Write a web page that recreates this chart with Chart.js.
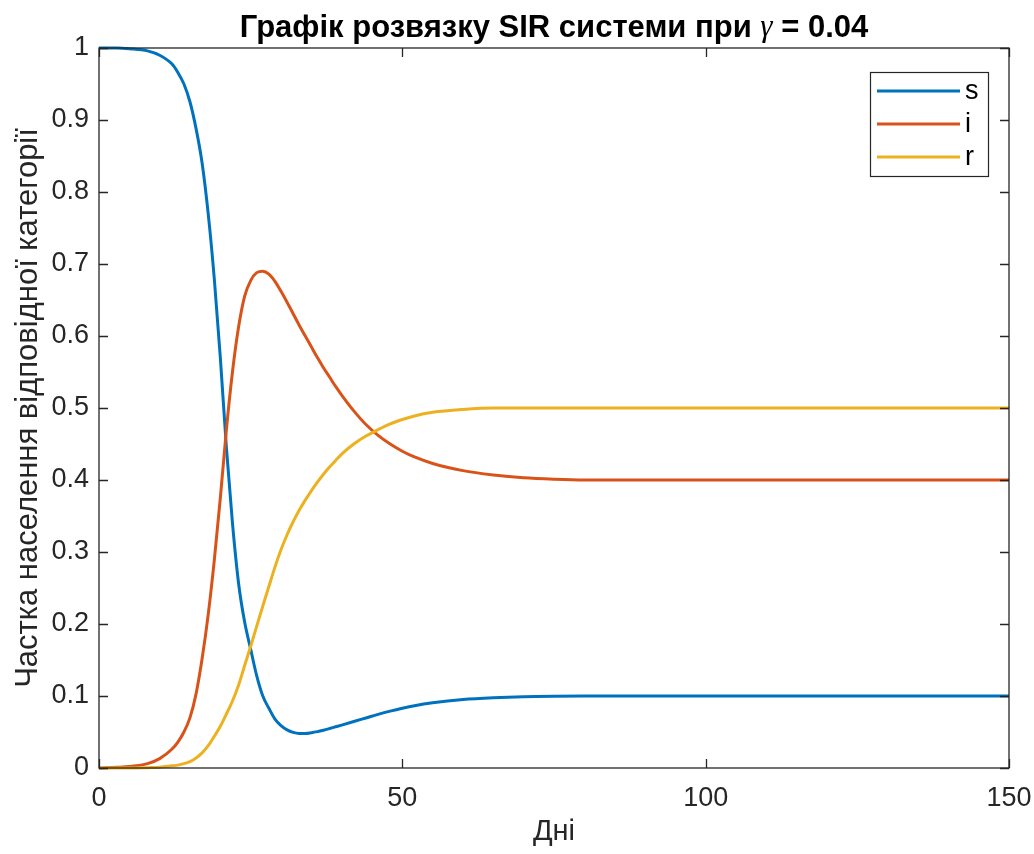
<!DOCTYPE html>
<html>
<head>
<meta charset="utf-8">
<script src="https://cdn.jsdelivr.net/npm/chart.js@4/dist/chart.umd.min.js"></script>
<style>
  html, body { margin: 0; padding: 0; background: #fff; }
  #wrap { width: 1034px; height: 854px; }
</style>
</head>
<body>
<div id="wrap"><canvas id="sir" width="1034" height="854"></canvas></div>
<script>
// values
const days  = [0, 3, 5, 8, 10, 12, 13, 14, 15, 16, 17, 18, 19, 20, 21, 22, 23, 24, 25, 26, 27, 28, 29, 30, 31, 32, 33, 34, 35, 36, 37, 38, 39, 40, 42, 44, 46, 48, 50, 52, 55, 60, 65, 70, 75, 80, 90, 100, 120, 150];
const sVals = [1.0, 1.0, 0.999, 0.996, 0.99, 0.978, 0.966, 0.95, 0.925, 0.888, 0.84, 0.77, 0.68, 0.57, 0.445, 0.34, 0.257, 0.203, 0.165, 0.128, 0.1, 0.083, 0.068, 0.059, 0.053, 0.0495, 0.048, 0.048, 0.049, 0.0505, 0.0525, 0.0548, 0.0572, 0.0596, 0.0645, 0.0695, 0.0745, 0.079, 0.083, 0.0865, 0.0905, 0.095, 0.0975, 0.099, 0.0997, 0.1, 0.1, 0.1, 0.1, 0.1];
const iVals = [0.0, 0.001, 0.002, 0.006, 0.013, 0.026, 0.036, 0.05, 0.07, 0.103, 0.152, 0.213, 0.288, 0.375, 0.47, 0.55, 0.612, 0.655, 0.677, 0.688, 0.69, 0.686, 0.676, 0.662, 0.647, 0.631, 0.615, 0.6, 0.585, 0.57, 0.556, 0.543, 0.53, 0.518, 0.496, 0.477, 0.462, 0.45, 0.44, 0.432, 0.423, 0.413, 0.407, 0.403, 0.401, 0.4, 0.4, 0.4, 0.4, 0.4];
const rVals = [0.0, 0.0, 0.0, 0.0005, 0.001, 0.003, 0.004, 0.006, 0.009, 0.014, 0.021, 0.031, 0.044, 0.058, 0.075, 0.093, 0.115, 0.142, 0.169, 0.197, 0.225, 0.252, 0.279, 0.303, 0.324, 0.342, 0.358, 0.372, 0.385, 0.397, 0.408, 0.418, 0.427, 0.436, 0.45, 0.461, 0.47, 0.478, 0.484, 0.489, 0.494, 0.498, 0.5, 0.5, 0.5, 0.5, 0.5, 0.5, 0.5, 0.5];
const seriesNames = ['s', 'i', 'r'];
const seriesColors = ['#0072BD', '#D95319', '#EDB120'];
const xTickValues = [0, 50, 100, 150];

// title pieces: plain bold text, then the greek letter in italic
const titleParts = ['Графік розвязку SIR системи при ', 'γ', ' = 0.04'];
const xLabel = 'Дні';
const yLabel = 'Частка населення відповідної категорії';

const FONT = "'Liberation Sans', Arial, Helvetica, sans-serif";
const SERIF = "'Liberation Serif', 'DejaVu Serif', serif";
const AXIS_COLOR = '#262626';

function toPoints(vals) {
    return days.map((d, k) => ({ x: d, y: vals[k] }));
}

// title centred over the axes
const titlePlugin = {
    id: 'titlePlugin',
    afterDraw(chart) {
        const { ctx, chartArea } = chart;
        const fonts = ['bold 31px ' + FONT, 'italic 31px ' + SERIF, 'bold 31px ' + FONT];
        ctx.save();
        ctx.fillStyle = '#000';
        ctx.textBaseline = 'middle';
        ctx.textAlign = 'left';
        let widths = titleParts.map((p, k) => { ctx.font = fonts[k]; return ctx.measureText(p).width; });
        let x = (chartArea.left + chartArea.right) / 2 - widths.reduce((a, b) => a + b, 0) / 2;
        titleParts.forEach((p, k) => {
            ctx.font = fonts[k];
            ctx.fillText(p, x, 28);
            x += widths[k];
        });
        ctx.restore();
    }
};

// MATLAB style box with inward ticks
const boxPlugin = {
    id: 'boxPlugin',
    afterDatasetsDraw(chart) {
        const { ctx, chartArea } = chart;
        const xs = chart.scales.x;
        const ys = chart.scales.y;
        const len = 9;
        ctx.save();
        ctx.strokeStyle = AXIS_COLOR;
        ctx.lineWidth = 1.3;
        ctx.strokeRect(chartArea.left, chartArea.top, chartArea.right - chartArea.left, chartArea.bottom - chartArea.top);
        ctx.beginPath();
        xs.ticks.forEach(t => {
            const px = Math.round(xs.getPixelForValue(t.value)) + 0.5;
            ctx.moveTo(px, chartArea.bottom);
            ctx.lineTo(px, chartArea.bottom - len);
            ctx.moveTo(px, chartArea.top);
            ctx.lineTo(px, chartArea.top + len);
        });
        ys.ticks.forEach(t => {
            const py = Math.round(ys.getPixelForValue(t.value)) + 0.5;
            ctx.moveTo(chartArea.left, py);
            ctx.lineTo(chartArea.left + len, py);
            ctx.moveTo(chartArea.right, py);
            ctx.lineTo(chartArea.right - len, py);
        });
        ctx.stroke();
        ctx.restore();
    }
};

// legend box in the upper right corner of the axes
const legendPlugin = {
    id: 'legendPlugin',
    afterDraw(chart) {
        const { ctx, chartArea } = chart;
        const boxW = 118, boxH = 104;
        const bx = chartArea.right - 21 - boxW;
        const by = chartArea.top + 24;
        ctx.save();
        ctx.fillStyle = '#fff';
        ctx.fillRect(bx, by, boxW, boxH);
        ctx.strokeStyle = AXIS_COLOR;
        ctx.lineWidth = 1.2;
        ctx.strokeRect(bx + 0.5, by + 0.5, boxW, boxH);
        chart.data.datasets.forEach((ds, k) => {
            const y = by + 19 + k * 33;
            ctx.strokeStyle = ds.borderColor;
            ctx.lineWidth = 3;
            ctx.beginPath();
            ctx.moveTo(bx + 7, y);
            ctx.lineTo(bx + 90, y);
            ctx.stroke();
            ctx.fillStyle = '#000';
            ctx.font = '27px ' + FONT;
            ctx.textBaseline = 'middle';
            ctx.textAlign = 'left';
            ctx.fillText(ds.label, bx + 95, y + 1);
        });
        ctx.restore();
    }
};

const datasets = [sVals, iVals, rVals].map((vals, k) => ({
    label: seriesNames[k],
    data: toPoints(vals),
    borderColor: seriesColors[k],
    backgroundColor: seriesColors[k],
    borderWidth: 3,
    pointRadius: 0,
    cubicInterpolationMode: 'monotone',
    fill: false,
    clip: 4,
    order: 3 - k
}));

new Chart(document.getElementById('sir'), {
    type: 'line',
    data: { datasets: datasets },
    plugins: [boxPlugin, legendPlugin, titlePlugin],
    options: {
        responsive: false,
        animation: false,
        events: [],
        layout: { padding: { left: 0, right: 25, top: 48, bottom: 0 } },
        plugins: {
            legend: { display: false },
            tooltip: { enabled: false },
            title: { display: false }
        },
        scales: {
            x: {
                type: 'linear',
                min: 0,
                max: 150,
                afterBuildTicks: scale => { scale.ticks = xTickValues.map(v => ({ value: v })); },
                afterFit: scale => {
                    scale.height = 86;
                    scale.paddingLeft = 0;
                    scale.paddingRight = 0;
                },
                grid: { display: false, drawTicks: false },
                border: { display: false },
                ticks: {
                    color: AXIS_COLOR,
                    font: { family: FONT, size: 27 },
                    padding: 14,
                    maxRotation: 0
                },
                title: {
                    display: true,
                    text: xLabel,
                    color: AXIS_COLOR,
                    font: { family: FONT, size: 29 },
                    padding: { top: 0, bottom: 5 }
                }
            },
            y: {
                min: 0,
                max: 1,
                afterFit: scale => {
                    scale.width = 99;
                    scale.paddingTop = 0;
                    scale.paddingBottom = 0;
                },
                grid: { display: false, drawTicks: false },
                border: { display: false },
                ticks: {
                    stepSize: 0.1,
                    color: AXIS_COLOR,
                    font: { family: FONT, size: 27 },
                    padding: 10,
                    callback: v => String(Math.round(v * 10) / 10)
                },
                title: {
                    display: true,
                    text: yLabel,
                    color: AXIS_COLOR,
                    font: { family: FONT, size: 31 },
                    padding: { top: 10, bottom: 0 }
                }
            }
        }
    }
});
</script>
</body>
</html>
